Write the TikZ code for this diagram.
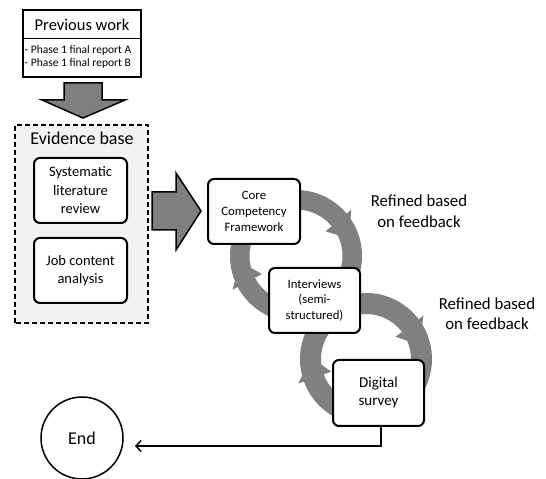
\documentclass[tikz,border=0pt]{standalone}
\usepackage{fontspec}
\setmainfont{Carlito}
\usetikzlibrary{calc,arrows.meta}
\definecolor{arrowgray}{HTML}{7F7F7F}
\definecolor{ringgray}{HTML}{808080}
\definecolor{evbg}{HTML}{F2F2F2}
\begin{document}
\begin{tikzpicture}[x=1pt,y=1pt,
  rbox/.style={draw=black, line width=2pt, rounded corners=6pt, fill=white,
    align=center, inner sep=0pt},
  bigarrow/.style={draw=black, line width=1.5pt, fill=arrowgray, line join=miter},
  ringfill/.style={fill=ringgray},
  lbl/.style={align=center, inner sep=0pt},
  conn/.style={line width=1.5pt, -{Straight Barb[length=5pt,width=11pt,line width=1.5pt]}}
]
\useasboundingbox (0,0) rectangle (546,479);

% ---- rings (drawn first, boxes cover them)
\coordinate (c1) at (296,223);
\coordinate (c2) at (366,120);
\fill[ringfill, even odd rule] (c1) circle[radius=66] (c1) circle[radius=46.5];
\fill[ringfill, even odd rule] (c2) circle[radius=66] (c2) circle[radius=45];
% barbs (arrow heads), clockwise
\fill[ringfill] ($(c1)+(40:38.5)$) -- ($(c1)+(40:72)$) -- ($(c1)+(18:56)$) -- cycle;
\fill[ringfill] ($(c1)+(208:38.5)$) -- ($(c1)+(208:72)$) -- ($(c1)+(186:56)$) -- cycle;
\fill[ringfill] ($(c2)+(37:37)$) -- ($(c2)+(37:72)$) -- ($(c2)+(15:55)$) -- cycle;
\fill[ringfill] ($(c2)+(200:37)$) -- ($(c2)+(200:72)$) -- ($(c2)+(178:55)$) -- cycle;

% ---- previous work
\node[draw=black, line width=2pt, fill=white, minimum width=118pt, minimum height=67pt, inner sep=0pt] (prev) at (82,435.5) {};
\node[lbl, font=\fontsize{16.5}{19}\selectfont] (prevtitle) at (82,454) {Previous work};
\draw[line width=1pt] (prev.west |- 0,440) -- (prev.east |- 0,440);
\node[lbl, anchor=west, font=\fontsize{11.5}{13}\selectfont] (pa) at (24.5,429) {- Phase 1 final report A};
\node[lbl, anchor=west, font=\fontsize{11.5}{13}\selectfont] (pb) at (24.5,416) {- Phase 1 final report B};

% down arrow
\draw[bigarrow] (64,396) -- (102,396) -- (102,379) -- (125,379) -- (83,361) -- (42,379) -- (64,379) -- cycle;

% ---- evidence base
\draw[line width=2pt, dash pattern=on 5pt off 3pt, fill=evbg] (15,156) rectangle (148,354);
\node[lbl, font=\fontsize{18}{21}\selectfont] (evtitle) at (82,341) {Evidence base};
\node[rbox, minimum width=93pt, minimum height=65pt, font=\fontsize{14.5}{18.5}\selectfont] (slr) at (80.5,288.5) {Systematic\\literature\\review};
\node[rbox, minimum width=93pt, minimum height=65pt, font=\fontsize{14.5}{18.5}\selectfont] (jca) at (80.5,208.5) {Job content\\analysis};

% right arrow
\draw[bigarrow] (152,287) -- (176,287) -- (176,306) -- (201,268) -- (176,229) -- (176,249) -- (152,249) -- cycle;

% ---- process boxes
\node[rbox, minimum width=92pt, minimum height=65pt, font=\fontsize{12.8}{16}\selectfont] (core) at (254,267.5) {Core\\Competency\\Framework};
\node[rbox, minimum width=91pt, minimum height=65pt, font=\fontsize{12.7}{15.5}\selectfont] (intv) at (314.5,178.5) {Interviews\\(semi-\\structured)};
\node[rbox, minimum width=91pt, minimum height=66pt, font=\fontsize{15}{18}\selectfont] (dig) at (378.5,86) {Digital\\survey};

\node[lbl, font=\fontsize{16.8}{20.5}\selectfont] (ref1) at (419,268) {Refined based\\on feedback};
\node[lbl, font=\fontsize{16.8}{20.5}\selectfont] (ref2) at (487,165.5) {Refined based\\on feedback};

% ---- end
\node[draw=black, line width=1.5pt, circle, minimum size=82pt, inner sep=0pt, font=\fontsize{18}{21}\selectfont] (end) at (82,41) {End};
\coordinate (endin) at (135,33);
\draw[conn] ([xshift=2.5pt]dig.south) |- (endin);
\end{tikzpicture}
\end{document}
